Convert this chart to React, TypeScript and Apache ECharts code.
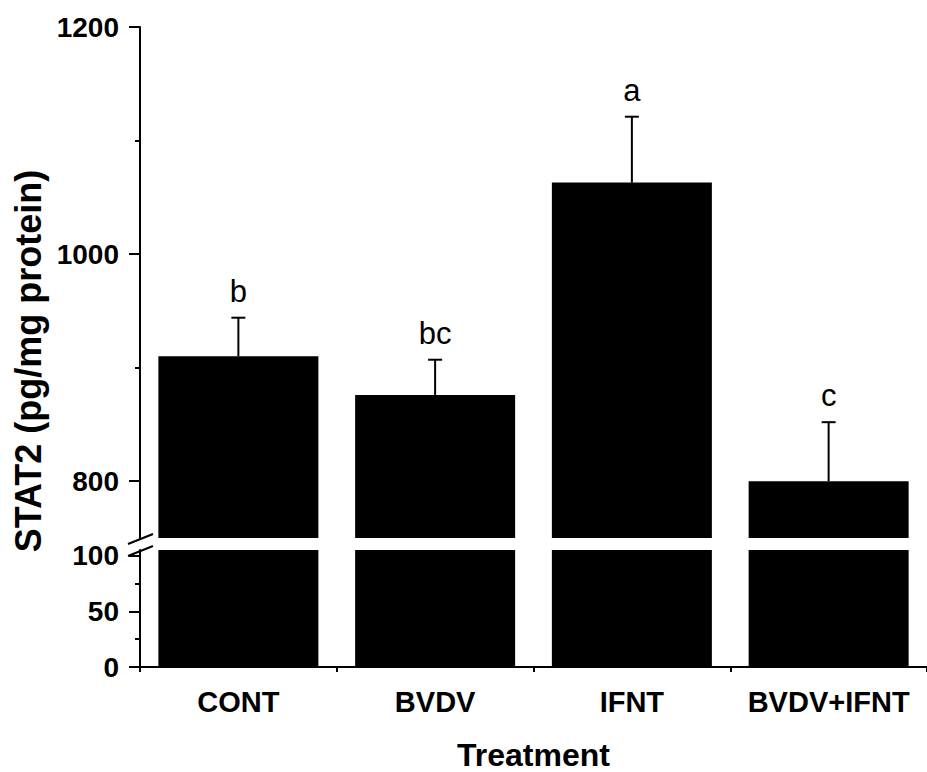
import React, { useEffect, useRef } from "react";
import * as echarts from "echarts";

const categories = ["CONT", "BVDV", "IFNT", "BVDV+IFNT"];
const means = [910, 876, 1063, 800];
const errors = [34, 31, 58, 52];
const letters = ["b", "bc", "a", "c"];
const upperTicks = [800, 1000, 1200];
const upperMinor = [900, 1100];
const lowerTicks = [0, 50, 100];
const lowerMinor = [25, 75];

const FONT = "'Liberation Sans', Arial, Helvetica, sans-serif";

export default function App() {
  const ref = useRef<HTMLDivElement>(null);
  useEffect(() => {
    if (!ref.current) return;
    const chart = echarts.init(ref.current, null, { renderer: "svg" });
    const axisLine = { show: true, lineStyle: { color: "#000", width: 2 } };
    const label = {
      color: "#000",
      fontFamily: FONT,
      fontWeight: "bold" as const,
      fontSize: 28,
      margin: 21,
      formatter: (v: number) => String(v),
    };
    const option: any = {
      animation: false,
      backgroundColor: "#fff",
      grid: [
        { left: 140, top: 27, width: 796, height: 511 },
        { left: 140, top: 550, width: 796, height: 119 },
      ],
      xAxis: [
        { type: "category", data: categories, gridIndex: 0, show: false },
        {
          type: "category",
          data: categories,
          gridIndex: 1,
          position: "bottom",
          axisLine,
          axisTick: { alignWithLabel: true, interval: 0, length: 10, lineStyle: { color: "#000", width: 2 } },
          axisLabel: { color: "#000", fontFamily: FONT, fontWeight: "bold", fontSize: 29, margin: 20, interval: 0 },
          name: "Treatment",
          nameLocation: "middle",
          nameGap: 72,
          nameTextStyle: { color: "#000", fontFamily: FONT, fontWeight: "bold", fontSize: 32 },
        },
        {
          type: "category",
          data: categories,
          gridIndex: 1,
          position: "bottom",
          axisLine: { show: false },
          axisTick: { show: true, interval: 0, length: 5, lineStyle: { color: "#000", width: 2 } },
          axisLabel: { show: false },
        },
      ],
      yAxis: [
        {
          type: "value",
          gridIndex: 0,
          min: 750,
          max: 1200,
          position: "left",
          splitLine: { show: false },
          axisLine,
          axisTick: { show: true, length: 11, customValues: upperTicks, lineStyle: { color: "#000", width: 2 } },
          axisLabel: { ...label, customValues: upperTicks },
        },
        {
          type: "value",
          gridIndex: 0,
          min: 750,
          max: 1200,
          position: "left",
          splitLine: { show: false },
          axisLine: { show: false },
          axisTick: { show: true, length: 5, customValues: upperMinor, lineStyle: { color: "#000", width: 2 } },
          axisLabel: { show: false },
        },
        {
          type: "value",
          gridIndex: 1,
          min: 0,
          max: 105,
          position: "left",
          splitLine: { show: false },
          axisLine,
          axisTick: { show: true, length: 11, customValues: lowerTicks, lineStyle: { color: "#000", width: 2 } },
          axisLabel: { ...label, customValues: lowerTicks },
        },
        {
          type: "value",
          gridIndex: 1,
          min: 0,
          max: 105,
          position: "left",
          splitLine: { show: false },
          axisLine: { show: false },
          axisTick: { show: true, length: 5, customValues: lowerMinor, lineStyle: { color: "#000", width: 2 } },
          axisLabel: { show: false },
        },
      ],
      series: [
        {
          type: "bar",
          xAxisIndex: 0,
          yAxisIndex: 0,
          data: means,
          barWidth: 160,
          clip: true,
          itemStyle: { color: "#000" },
        },
        {
          type: "bar",
          xAxisIndex: 1,
          yAxisIndex: 2,
          data: means,
          barWidth: 160,
          clip: true,
          itemStyle: { color: "#000" },
        },
        {
          type: "custom",
          xAxisIndex: 0,
          yAxisIndex: 0,
          data: categories.map((c, i) => [i, means[i], errors[i]]),
          z: 5,
          renderItem: (params: any, api: any) => {
            const i = api.value(0);
            const top = api.coord([i, api.value(1)]);
            const et = api.coord([i, api.value(1) + api.value(2)]);
            const st = { stroke: "#000", lineWidth: 2 };
            return {
              type: "group",
              children: [
                { type: "line", shape: { x1: top[0], y1: top[1], x2: et[0], y2: et[1] }, style: st },
                { type: "line", shape: { x1: et[0] - 7, y1: et[1], x2: et[0] + 7, y2: et[1] }, style: st },
                {
                  type: "text",
                  x: et[0],
                  y: et[1] - 11,
                  style: {
                    text: letters[params.dataIndex],
                    fill: "#000",
                    font: `31px ${FONT}`,
                    align: "center",
                    verticalAlign: "bottom",
                  },
                },
              ],
            };
          },
        },
      ],
      graphic: [
        {
          type: "text",
          x: 28,
          y: 361,
          rotation: Math.PI / 2,
          style: {
            text: "STAT2 (pg/mg protein)",
            fill: "#000",
            font: `bold 36px ${FONT}`,
            align: "center",
            verticalAlign: "middle",
          },
        },
        { type: "line", shape: { x1: 128, y1: 544, x2: 153, y2: 534 }, style: { stroke: "#000", lineWidth: 2 } },
        { type: "line", shape: { x1: 128, y1: 556, x2: 153, y2: 546 }, style: { stroke: "#000", lineWidth: 2 } },
      ],
    };
    chart.setOption(option);
    return () => chart.dispose();
  }, []);
  return <div ref={ref} style={{ position: "fixed", left: 0, top: 0, width: 927, height: 772 }} />;
}
